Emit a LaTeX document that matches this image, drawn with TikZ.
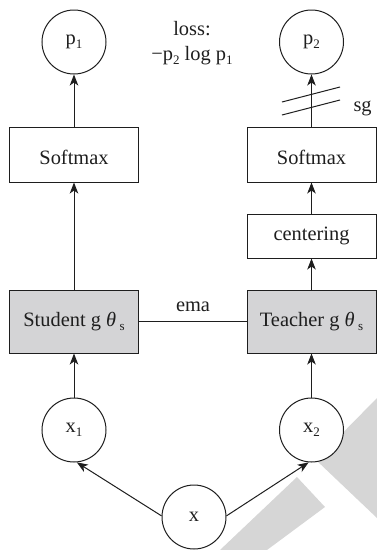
\documentclass[tikz,border=0pt]{standalone}
\usepackage{fontspec}
\setmainfont{Liberation Serif}
\usetikzlibrary{arrows.meta}
\definecolor{boxgray}{RGB}{212,212,214}
\definecolor{wmgray}{RGB}{214,214,214}
\definecolor{ink}{RGB}{30,30,30}
\newcommand\lsub[1]{\raisebox{-4pt}{\fontsize{13}{13}\selectfont #1}}
\begin{document}
\begin{tikzpicture}[x=1pt,y=-1pt,
  every node/.style={font=\fontsize{20.4}{25}\selectfont,text=ink},
  line width=1pt, draw=ink,
  circ/.style={draw=ink,circle,fill=white,minimum size=64pt,inner sep=0pt},
  wbox/.style={draw=ink,rectangle,fill=white,minimum width=129pt,inner sep=0pt},
  gbox/.style={draw=ink,rectangle,fill=boxgray,minimum width=129pt,minimum height=63pt,inner sep=0pt},
  arr/.style={-{Stealth[length=11pt,width=8.5pt,inset=3pt]}}]
\useasboundingbox (0,0) rectangle (377,550);
% watermark bands
\fill[wmgray] (316,460) -- (377,398) -- (377,518) -- cycle;
\fill[wmgray] (297,477) -- (325,507) -- (267,550) -- (220,550) -- cycle;
% nodes
\node[circ] (p1) at (74,42) {p\lsub{1}};
\node[circ] (p2) at (311.5,42) {p\lsub{2}};
\node[align=center] (loss) at (192,42.8) {loss:\\−p\lsub{2} log p\lsub{1}};
\node[wbox,minimum height=55pt] (sm1) at (74,154.5) {\raisebox{0pt}[19pt][0pt]{Softmax}};
\node[wbox,minimum height=55pt] (sm2) at (311.5,154.5) {\raisebox{0pt}[19pt][0pt]{Softmax}};
\node[wbox,minimum height=44pt] (cen) at (311.5,236) {centering};
\node[gbox] (stu) at (74,321.5) {Student g {\itshape θ}\,\lsub{s}};
\node[gbox] (tea) at (311.5,321.5) {Teacher g {\itshape θ}\,\lsub{s}};
\node[anchor=base] (ema) at (193,311.7) {ema};
\node[circ] (x1) at (74,430) {x\lsub{1}};
\node[circ] (x2) at (311.5,430) {x\lsub{2}};
\node[circ] (x) at (194,517) {x};
\node[anchor=base west,inner sep=0pt] (sg) at (353,111) {sg};
% connectors
\draw[arr] (sm1) -- (p1);
\draw[arr] (sm2) -- (p2);
\draw[arr] (cen) -- (sm2);
\draw[arr] (tea) -- (cen);
\draw[arr] (stu) -- (sm1);
\draw (stu) -- (tea);
\draw[arr] (x1) -- (stu);
\draw[arr] (x2) -- (tea);
\draw[arr] (x.178) -- (x1.-85);
\draw[arr] (x.2) -- (x2.-95);
% stop-gradient marks
\coordinate (sga) at (282,102);
\coordinate (sgb) at (340,87);
\coordinate (sgc) at (282,115);
\coordinate (sgd) at (340,100);
\draw (sga) -- (sgb);
\draw (sgc) -- (sgd);
\end{tikzpicture}
\end{document}
